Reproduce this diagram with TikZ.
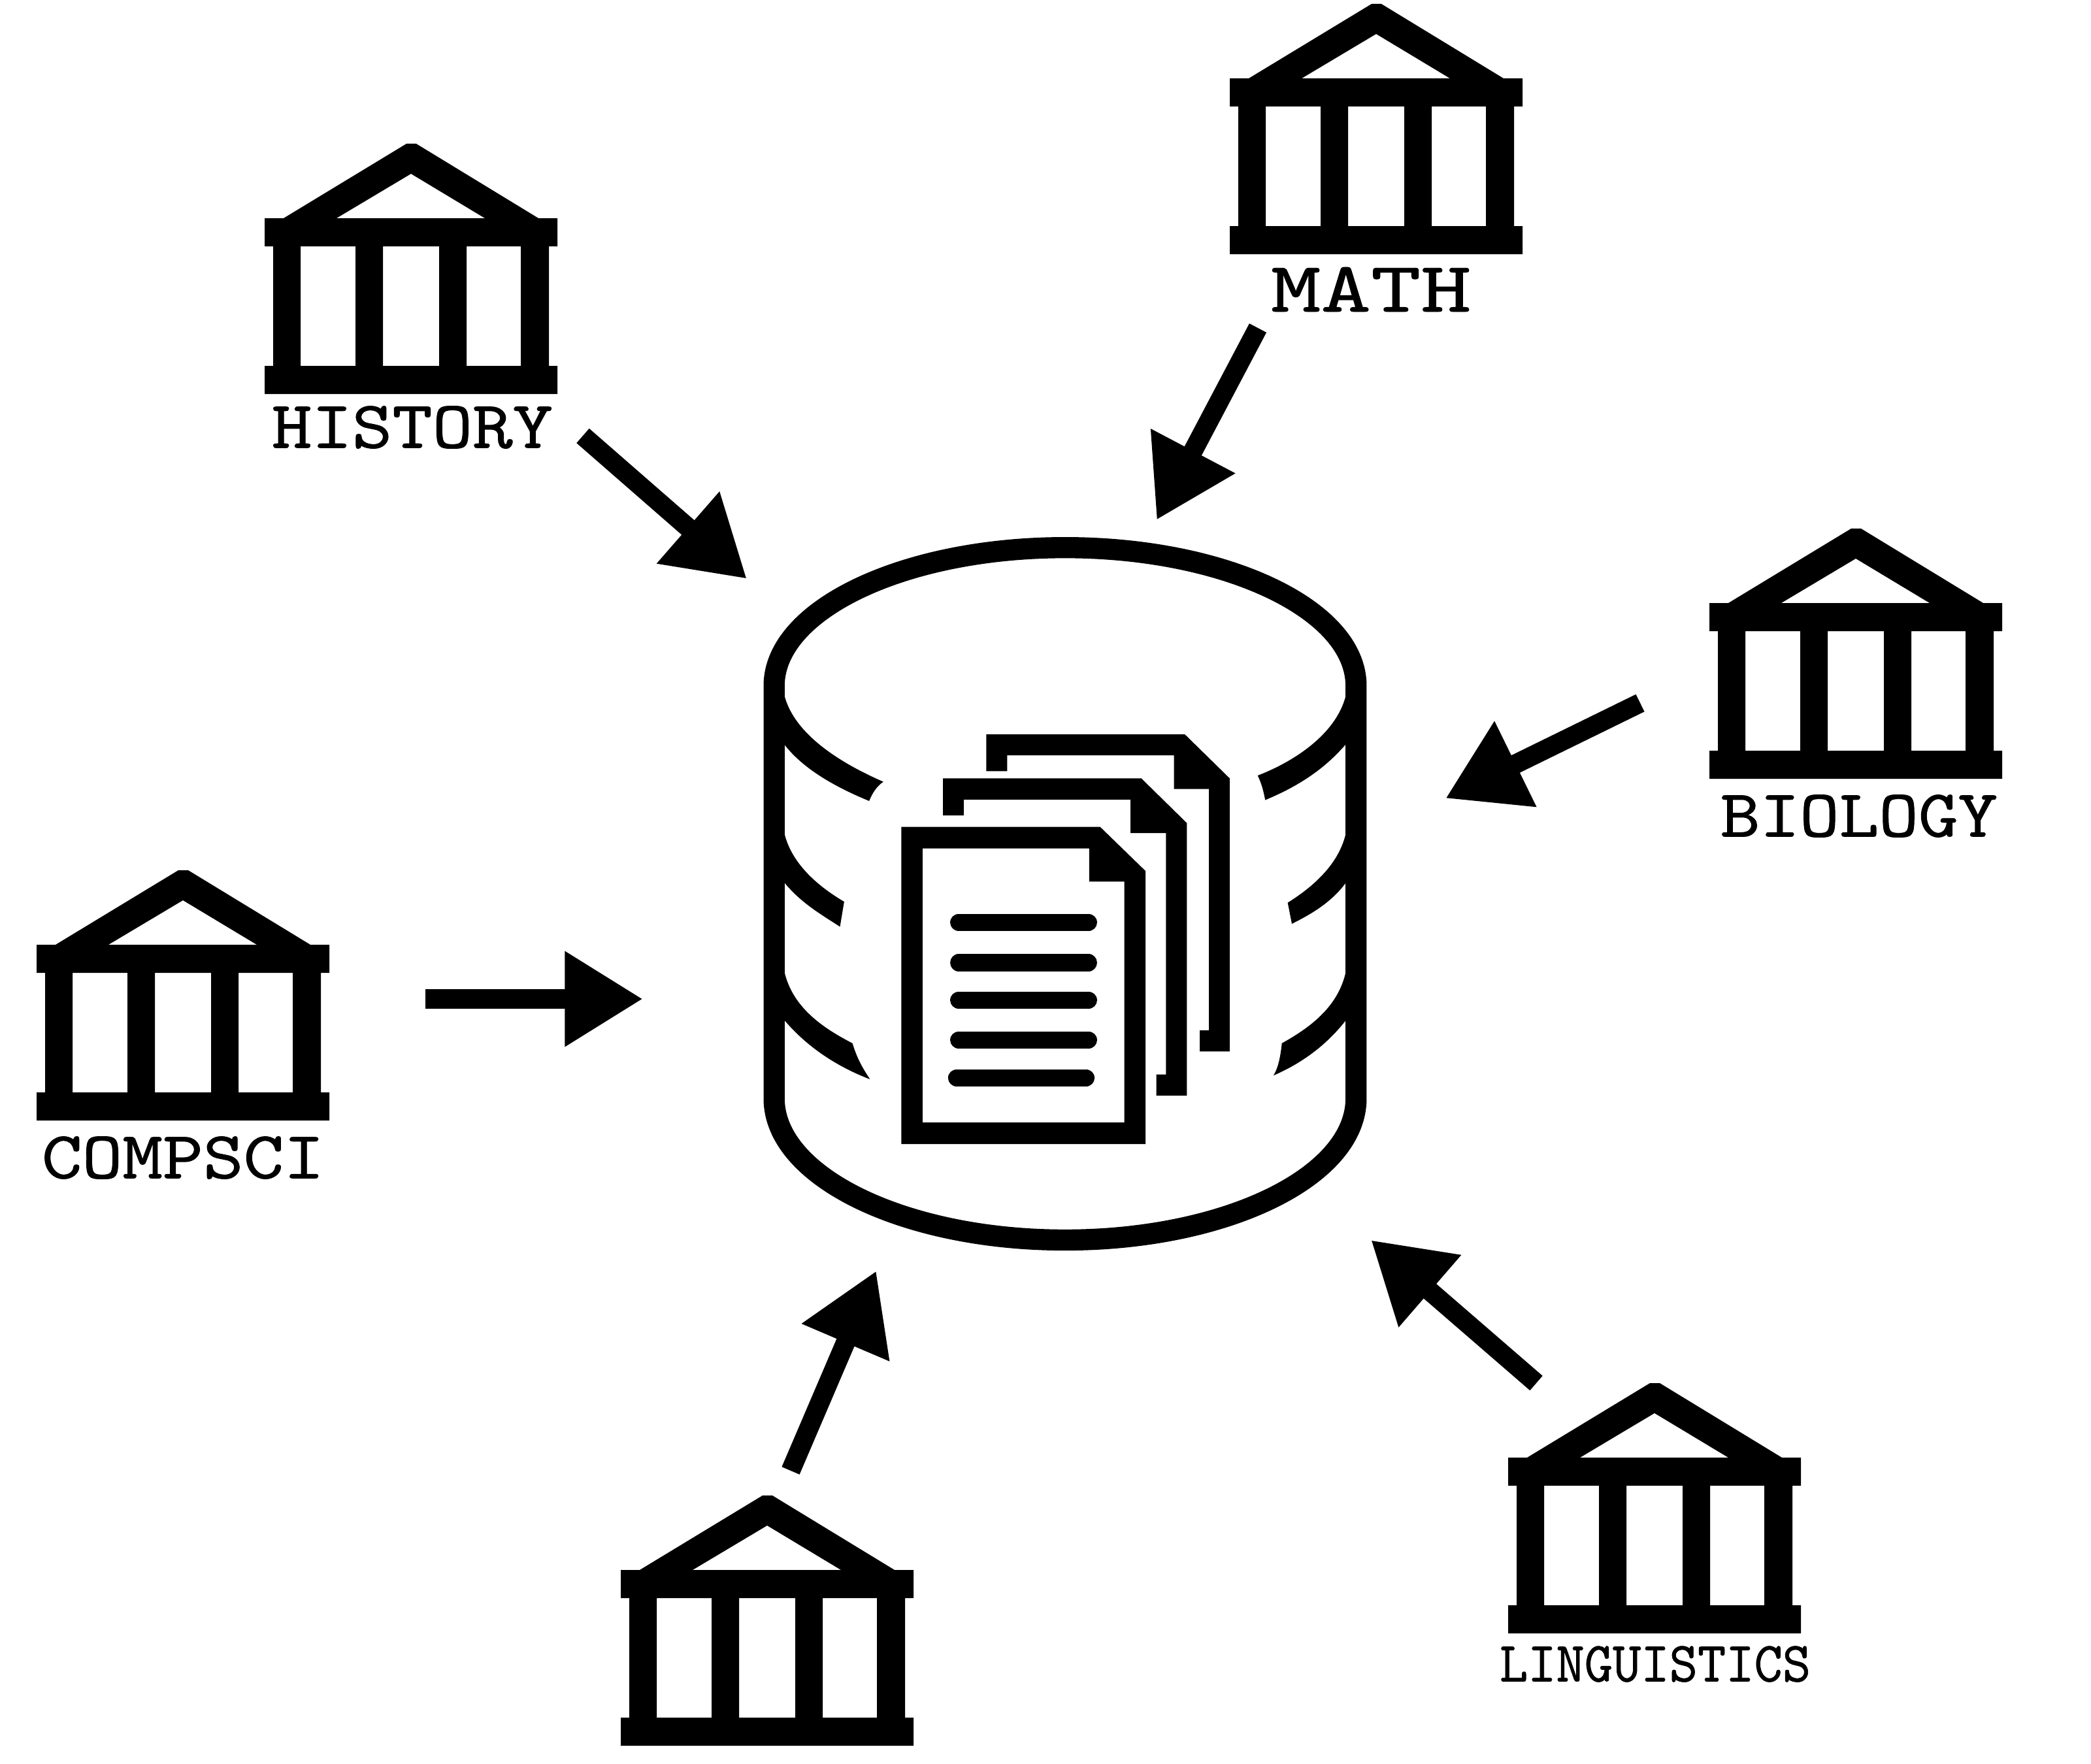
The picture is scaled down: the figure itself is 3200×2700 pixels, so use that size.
\documentclass[tikz,border=0pt]{standalone}
\usepackage{graphicx}
\usepackage{fontspec}
\newfontfamily\typew[FakeBold=0.8]{Latin Modern Mono}
\usetikzlibrary{arrows.meta}
\tikzset{
  ink/.style={fill=black,draw=none,even odd rule},
  flowarrow/.style={line width=21pt,draw=black,-{Triangle[length=85pt,width=98pt]}},
  dept/.style={inner sep=0pt,outer sep=0pt,text=black,font=\typew},
  wall/.style={draw=black,line width=23pt},
  textline/.style={draw=black,line width=18.8pt,line cap=round}
}
\newcommand{\temple}[3]{%
  \begin{scope}[shift={(#2,#3)}]
    \coordinate (#1) at (224,190);
    \fill[ink] (217,0)--(232,0)--(419,114)--(448,114)--(448,157)--(435,157)--(435,340)--(448,340)--(448,383)--(0,383)--(0,340)--(13,340)--(13,157)--(0,157)--(0,114)--(29,114)--cycle
      (224,46)--(110,114)--(337,114)--cycle
      (55,157) rectangle (139,340)
      (181,157) rectangle (267,340)
      (309,157) rectangle (392,340);
  \end{scope}}
\begin{document}
\begin{tikzpicture}[x=0.025cm,y=-0.025cm]
\useasboundingbox[fill=white] (0,0) rectangle (3200,2700);
\temple{history}{405}{220}
\temple{math}{1882}{6}
\temple{biology}{2616}{809}
\temple{compsci}{56}{1332}
\temple{unnamed}{950}{2289}
\temple{linguistics}{2308}{2117}
\node[dept] (lhistory) at (631,654) {\resizebox{305.9pt}{45.5pt}{HISTORY}};
\node[dept] (lmath) at (2098,443) {\resizebox{217.7pt}{48.4pt}{MATH}};
\node[dept] (lbiology) at (2845,1249) {\resizebox{301.6pt}{45.5pt}{BIOLOGY}};
\node[dept] (lcompsci) at (280,1772) {\resizebox{307.3pt}{45.5pt}{COMPSCI}};
\node[dept] (llinguistics) at (2533,2547) {\resizebox{338.6pt}{38.4pt}{LINGUISTICS}};
% database, in a local frame
\begin{scope}[shift={(1140,800)},x=0.015944cm,y=-0.01835cm]
  \draw[wall] (70,1200)--(70,340) arc [start angle=180,end angle=360,x radius=698,y radius=288]--(1466,1200) arc [start angle=0,end angle=180,x radius=698,y radius=295]--cycle;
  \fill[ink] (90,330) .. controls (92,420) and (200,490) .. (332,540) .. controls (315,550) and (305,565) .. (298,580) .. controls (200,545) and (130,505) .. (90,457) --cycle;
  \fill[ink] (90,620) .. controls (95,700) and (170,755) .. (238,790) -- (228,842) .. controls (180,815) and (130,790) .. (90,745) --cycle;
  \fill[ink] (90,905) .. controls (95,1000) and (180,1050) .. (258,1085) .. controls (270,1120) and (285,1140) .. (300,1160) .. controls (210,1130) and (140,1085) .. (90,1032) --cycle;
  \fill[ink] (1446,330) .. controls (1444,420) and (1340,490) .. (1230,527) .. controls (1240,545) and (1244,560) .. (1248,578) .. controls (1340,545) and (1400,505) .. (1446,457) --cycle;
  \fill[ink] (1446,620) .. controls (1441,700) and (1370,755) .. (1302,792) -- (1312,836) .. controls (1360,815) and (1410,790) .. (1446,745) --cycle;
  \fill[ink] (1446,905) .. controls (1441,1000) and (1360,1050) .. (1288,1085) .. controls (1285,1110) and (1280,1135) .. (1268,1152) .. controls (1340,1125) and (1400,1085) .. (1446,1032) --cycle;
  \fill[ink] (579,441)--(1055,441)--(1163,533)--(1163,1102)--(1091,1102)--(1091,1058)--(1113,1058)--(1113,555)--(1029,555)--(1029,485)--(629,485)--(629,518)--(579,518)--cycle;
  \fill[ink] (475,533)--(951,533)--(1060,626)--(1060,1194)--(987,1194)--(987,1150)--(1010,1150)--(1010,647)--(925,647)--(925,577)--(525,577)--(525,610)--(475,610)--cycle;
  \fill[ink] (375,634)--(852,634)--(961,726)--(961,1295)--(375,1295)--cycle
     (426,679)--(826,679)--(826,748)--(910,748)--(910,1250)--(426,1250)--cycle;
  \draw[textline] (513,833)--(824,833);
  \draw[textline] (513,917)--(824,917);
  \draw[textline] (513,995)--(824,995);
  \draw[textline] (513,1078)--(824,1078);
  \draw[textline] (508,1157)--(818,1157);
\end{scope}
% arrows
\coordinate (a1s) at (892,667); \coordinate (a1e) at (1143,886);
\coordinate (a2s) at (1925,502); \coordinate (a2e) at (1770,796);
\coordinate (a3s) at (2510,1076); \coordinate (a3e) at (2212,1222);
\coordinate (a4s) at (651,1529); \coordinate (a4e) at (984,1529);
\coordinate (a5s) at (1210,2251); \coordinate (a5e) at (1341,1945);
\coordinate (a6s) at (2351,2117); \coordinate (a6e) at (2098,1898);
\draw[flowarrow] (a1s)--(a1e);
\draw[flowarrow] (a2s)--(a2e);
\draw[flowarrow] (a3s)--(a3e);
\draw[flowarrow] (a4s)--(a4e);
\draw[flowarrow] (a5s)--(a5e);
\draw[flowarrow] (a6s)--(a6e);
\end{tikzpicture}
\end{document}
